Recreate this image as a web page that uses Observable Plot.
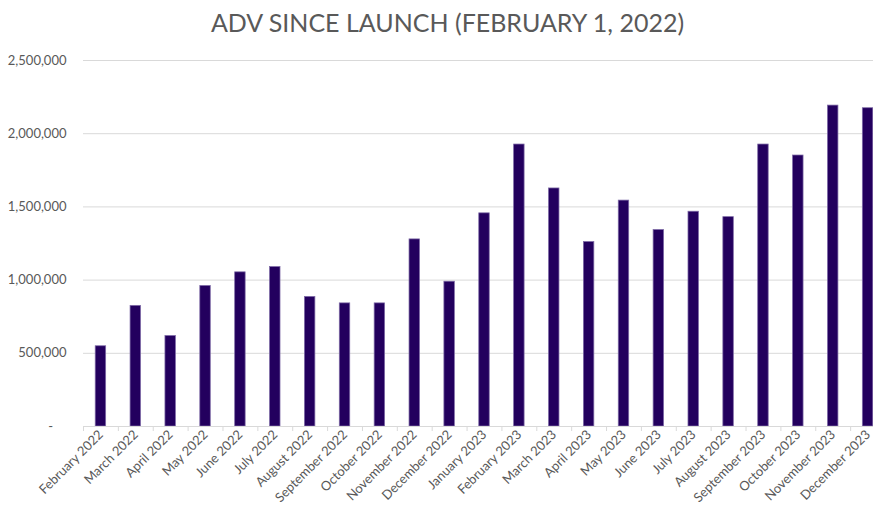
<!DOCTYPE html>
<html><head><meta charset="utf-8">
<script src="https://cdn.jsdelivr.net/npm/d3@7"></script>
<script src="https://cdn.jsdelivr.net/npm/@observablehq/plot@0.6"></script>
<style>
body{margin:0;background:#fff;overflow:hidden;width:873px;height:510px}
#title{height:45px;font-family:Lato, "Open Sans", sans-serif;font-size:25px;color:#595959;text-align:center;line-height:45px;padding-left:22px;box-sizing:border-box;white-space:nowrap}
svg{overflow:visible}
</style></head><body>
<div id="title">ADV SINCE LAUNCH (FEBRUARY 1, 2022)</div>
<div id="chart"></div>
<script>
const months = ["February 2022","March 2022","April 2022","May 2022","June 2022","July 2022","August 2022","September 2022","October 2022","November 2022","December 2022","January 2023","February 2023","March 2023","April 2023","May 2023","June 2023","July 2023","August 2023","September 2023","October 2023","November 2023","December 2023"];
const adv = [548000,824000,618000,960000,1053000,1089000,885000,841000,841000,1278000,989000,1456000,1926000,1626000,1260000,1543000,1342000,1467000,1430000,1926000,1851000,2192000,2174000];
const yTicks = [0,500000,1000000,1500000,2000000,2500000];

const data = months.map((m,i)=>({month:m, adv:adv[i]}));
const fmt = d3.format(",");
const step = (885-83)/23;

const chart = Plot.plot({
  width: 873, height: 465,
  marginTop: 15, marginBottom: 84, marginLeft: 83, marginRight: 0,
  style: {fontFamily: "Lato, 'Open Sans', sans-serif", fontSize: "13px", color: "#595959", background: "#fff", overflow: "visible"},
  x: {domain: months, range: [83, 885], round: false, paddingInner: 0.7, paddingOuter: 0.35, label: null},
  y: {domain: [0, 2500000], label: null},
  marks: [
    Plot.gridY(yTicks, {stroke: "#d9d9d9", strokeOpacity: 1}),
    Plot.axisY(yTicks, {tickSize: 0, tickPadding: 17, tickFormat: d => d === 0 ? "-\u00a0\u00a0\u00a0\u00a0" : fmt(d), fill: "#595959", label: null}),
    Plot.axisX(months, {tickSize: 5, tickFormat: () => "", dx: -step/2, stroke: "#d9d9d9", label: null}),
    Plot.axisX(months, {tickSize: 0, tickPadding: 6, tickRotate: -45, fill: "#595959", label: null}),
    Plot.barY(data, {x: "month", y: "adv", fill: "#23005e", stroke: "#7e6aa6", strokeWidth: 0.75}),
    Plot.ruleY([0], {stroke: "#d9d9d9"})
  ]
});
document.getElementById("chart").append(chart);
</script>
</body></html>
